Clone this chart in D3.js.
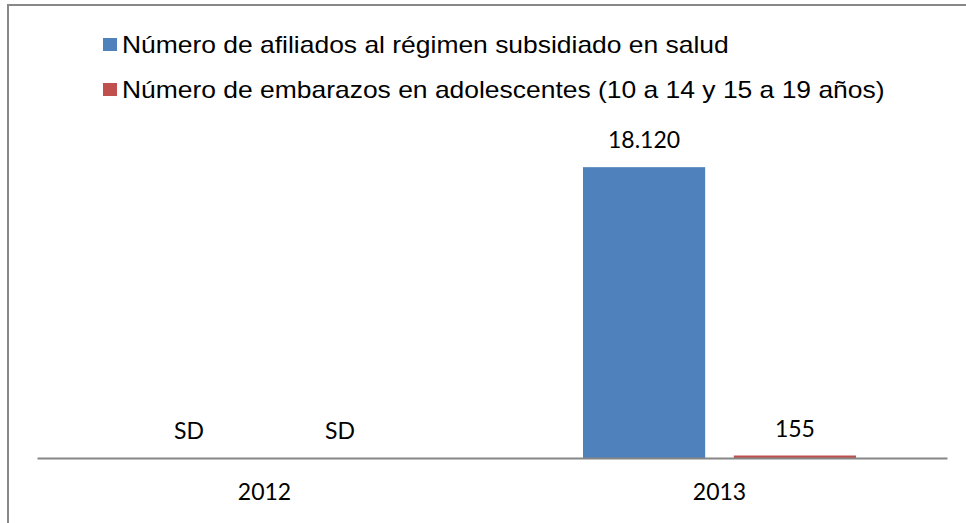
<!DOCTYPE html>
<html><head><meta charset="utf-8">
<script src="https://cdn.jsdelivr.net/npm/d3@7"></script>
<style>body{margin:0;background:#fff}svg{display:block}</style>
</head><body>
<svg id="c" width="966" height="523"></svg>
<script>
const years = ["2012", "2013"];
const seriesNames = [
  "Número de afiliados al régimen subsidiado en salud",
  "Número de embarazos en adolescentes (10 a 14 y 15 a 19 años)"
];
const afiliados = [null, 18120];
const embarazos = [null, 155];
const colors = ["#4F81BD", "#C0504D"];
const series = [afiliados, embarazos];

const svg = d3.select("#c");
// frame
svg.append("rect").attr("x", 8).attr("y", 5).attr("width", 1000).attr("height", 1000)
  .attr("fill", "none").attr("stroke", "#888").attr("stroke-width", 2);

const x0 = d3.scaleBand().domain(years).range([37, 947]).paddingInner(0).paddingOuter(0);
const x1 = d3.scaleBand().domain([0, 1]).range([91, 455 - 91]).paddingInner(0.19).paddingOuter(0);
const y = d3.scaleLinear().domain([0, 20000]).range([458, 137]);

const fmt = v => v == null ? "SD" : d3.format(",")(v).replace(/,/g, ".");

years.forEach((yr, i) => {
  series.forEach((s, j) => {
    const v = s[i];
    const bx = x0(yr) + x1(j);
    if (v != null) {
      svg.append("rect").attr("x", bx).attr("width", x1.bandwidth())
        .attr("y", y(v)).attr("height", y(0) - y(v)).attr("fill", colors[j]);
    }
    svg.append("text").attr("x", bx + x1.bandwidth() / 2).attr("y", y(v || 0) - 19)
      .attr("text-anchor", "middle").attr("font-family", "Lato").attr("font-size", 23)
      .attr("fill", "#000").text(fmt(v));
  });
});

// axis
const axis = svg.append("g").attr("transform", "translate(0,458)")
  .call(d3.axisBottom(x0).tickSize(0).tickPadding(0));
axis.select(".domain").attr("stroke", "#868686").attr("stroke-width", 2);
axis.selectAll(".tick text").attr("font-family", "Lato").attr("font-size", 23)
  .attr("fill", "#000").attr("dy", null).attr("y", 42);

// legend
const leg = svg.append("g");
seriesNames.forEach((n, j) => {
  const gy = 38 + j * 45;
  leg.append("rect").attr("x", 103).attr("y", gy).attr("width", 14).attr("height", 13).attr("fill", colors[j]);
  leg.append("g").attr("transform", `translate(122,${gy + 15}) scale(1.15,1)`)
    .append("text").attr("x", 0).attr("y", 0).attr("font-family", "Liberation Sans, Arial")
    .attr("font-size", 23).attr("fill", "#000").text(n);
});
</script>
</body></html>
